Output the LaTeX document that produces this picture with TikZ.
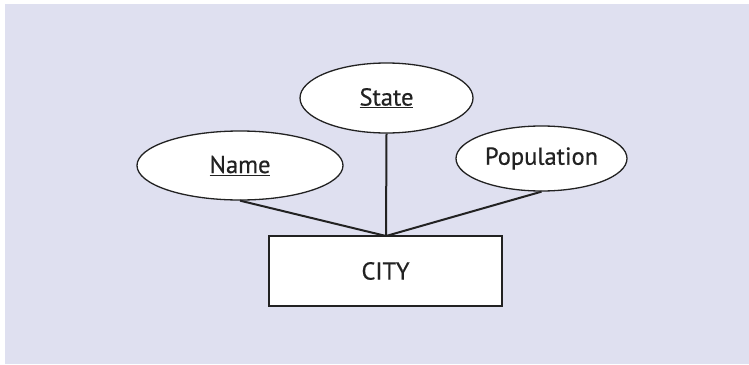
\documentclass[tikz,border=0pt]{standalone}
\usepackage{fontspec}
\setmainfont[FakeBold=0.5]{PT Sans}
\usetikzlibrary{shapes.geometric}
\definecolor{panel}{HTML}{DFE0F0}
\definecolor{ink}{HTML}{222222}
\tikzset{
  attr/.style={ellipse, draw=ink, line width=1.3pt, fill=white, inner sep=0pt,
    text=ink, font=\fontsize{24.5}{28}\selectfont},
  entity/.style={rectangle, draw=ink, line width=1.6pt, fill=white, inner sep=0pt,
    minimum width=233pt, minimum height=70pt, text=ink, font=\fontsize{24.5}{28}\selectfont},
  link/.style={draw=ink, line width=2pt}
}
\newcommand{\keyattr}[1]{\underline{#1}}
\begin{document}
\begin{tikzpicture}[x=1pt, y=-1pt]
  % page and panel
  \fill[white] (0,0) rectangle (749,364);
  \fill[panel] (5,4) rectangle (749,364);
  \useasboundingbox (0,0) rectangle (749,364);

  % entity and its attributes
  \node[entity] (city) at (385.5,271) {CITY};
  \node[attr, minimum width=173pt, minimum height=70pt] (state) at (386.5,98) {\keyattr{State}};
  \node[attr, minimum width=206pt, minimum height=69pt] (name) at (240,165.5) {\keyattr{Name}};
  \node[attr, minimum width=171pt, minimum height=65pt] (pop) at (541.5,158.5) {Population};

  % connectors meet at the top middle of the entity
  \coordinate (hub) at (386,236);
  \draw[link] (name.south) -- (hub);
  \draw[link] (state.south) -- (hub);
  \draw[link] (pop.south) -- (hub);
\end{tikzpicture}
\end{document}
